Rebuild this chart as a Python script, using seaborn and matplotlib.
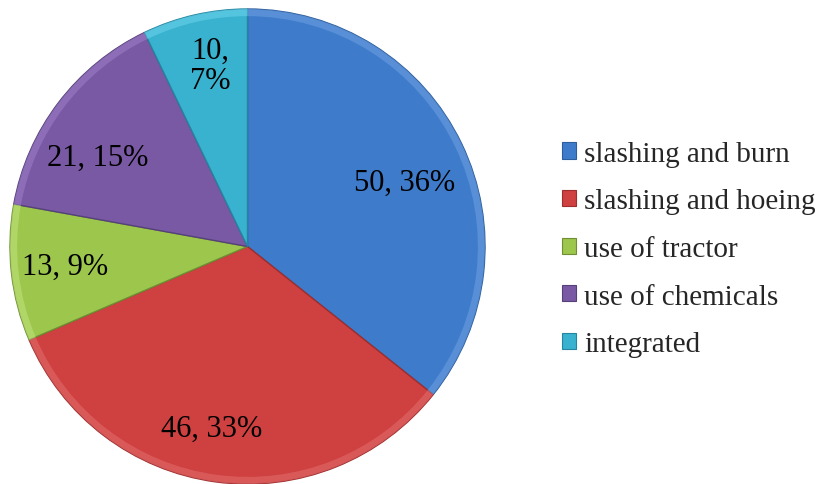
import matplotlib
matplotlib.use("Agg")
import numpy as np
import matplotlib.pyplot as plt
import seaborn as sns
from matplotlib.patches import Patch

# --- Data ---
methods = ["slashing and burn", "slashing and hoeing", "use of tractor",
           "use of chemicals", "integrated"]
counts = [50, 46, 13, 21, 10]
colors = ["#3e7ccb", "#cf4040", "#9dc64c", "#7a59a4", "#38b2cf"]
edge_colors = ["#2c5d9c", "#9e2d2d", "#6f8f33", "#56407a", "#2585a0"]
rim_colors = ["#6a9de0", "#e06a6a", "#bde27a", "#9a7cc4", "#6ad2ea"]

# label placement (radius, angle shift in degrees) like the original's best fit
label_r = [0.72, 0.77, 0.77, 0.74, 0.79]
label_shift = [-2.7, -3.6, -1.2, 5.6, -1.5]

total = sum(counts)
slice_labels = []
for v in counts:
    pct = round(v / total * 100)
    if v / total < 0.08:
        slice_labels.append(f"{v},\n{pct}%")
    else:
        slice_labels.append(f"{v}, {pct}%")

# --- Plot ---
sns.set_style("white")
plt.rcParams["font.family"] = ["Liberation Serif", "DejaVu Serif"]

fig = plt.figure(figsize=(8.25, 4.85), dpi=100)
ax = fig.add_axes([10 / 825, 0.0, 475 / 825, 475 / 485])

wedges, texts = ax.pie(counts, labels=slice_labels, colors=colors,
                       startangle=90, counterclock=False,
                       labeldistance=0.77, radius=1.0,
                       wedgeprops={"linewidth": 1.0},
                       textprops={"fontsize": 22, "color": "black"})
for w, ec in zip(wedges, edge_colors):
    w.set_edgecolor(ec)

# light bevel along the outer rim
rim, _ = ax.pie(counts, colors=rim_colors, startangle=90, counterclock=False,
                radius=1.0, wedgeprops={"width": 0.03, "linewidth": 0, "alpha": 0.6})

for t, w, r, s in zip(texts, wedges, label_r, label_shift):
    ang = np.deg2rad((w.theta1 + w.theta2) / 2 + s)
    t.set_position((r * np.cos(ang), r * np.sin(ang) - 0.012))
    t.set_ha("center")
    t.set_va("center")
    t.set_linespacing(1.05)

ax.set_xlim(-1, 1)
ax.set_ylim(-1, 1)
ax.set_aspect("equal")
ax.axis("off")

handles = [Patch(facecolor=c, edgecolor=ec, linewidth=0.8)
           for c, ec in zip(colors, edge_colors)]
fig.legend(handles, methods, loc="center left",
           bbox_to_anchor=(562 / 825, 1 - 250 / 485),
           frameon=False, fontsize=21, handlelength=0.48, handleheight=0.48,
           handletextpad=0.28, labelspacing=0.74, borderaxespad=0,
           borderpad=0)

fig.savefig("out.png", dpi=100, facecolor="white")
